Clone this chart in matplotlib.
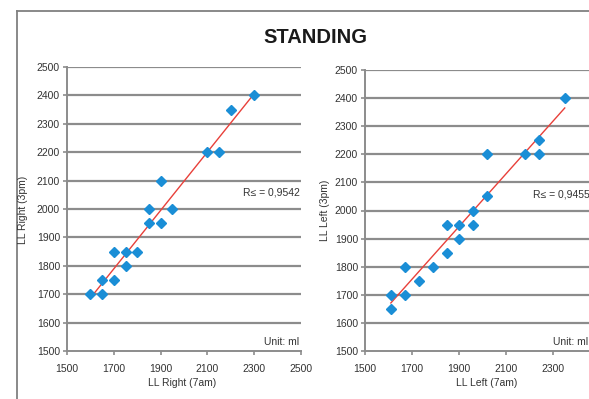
import numpy as np
import matplotlib
matplotlib.use('Agg')
import matplotlib.pyplot as plt
from matplotlib.lines import Line2D

plt.rcParams['font.family'] = ['Liberation Sans', 'DejaVu Sans']

# right leg, standing
right_7am = [1600, 1650, 1650, 1700, 1700, 1750, 1750, 1800, 1850, 1850, 1900, 1900, 1950, 2100, 2150, 2200, 2300]
right_3pm = [1700, 1700, 1750, 1750, 1850, 1850, 1800, 1850, 2000, 1950, 2100, 1950, 2000, 2200, 2200, 2350, 2400]
right_r2 = "R≤ = 0,9542"

# left leg, standing
left_7am = [1610, 1610, 1670, 1670, 1730, 1790, 1850, 1850, 1900, 1900, 1960, 1960, 2020, 2020, 2180, 2240, 2240, 2350]
left_3pm = [1650, 1700, 1800, 1700, 1750, 1800, 1950, 1850, 1950, 1900, 2000, 1950, 2200, 2050, 2200, 2250, 2200, 2400]
left_r2 = "R≤ = 0,9455"

ticks = [1500, 1700, 1900, 2100, 2300, 2500]
yticks = list(range(1500, 2501, 100))

blue = '#1a8ed6'
red = '#e8403a'
grey = '#8c8c8c'

fig = plt.figure(figsize=(5.89, 3.99), dpi=100)

# outer frame, only top and left edges visible
fig.add_artist(Line2D([17/589, 17/589], [0, 1 - 11/399], transform=fig.transFigure, color='#808080', lw=1.3))
fig.add_artist(Line2D([17/589, 1], [1 - 11/399, 1 - 11/399], transform=fig.transFigure, color='#808080', lw=1.3))

fig.text(0.535, 0.905, "STANDING", ha='center', va='center', fontsize=14.5, fontweight='bold', color='#1a1a1a')

ax1 = fig.add_axes([67/589, 48/399, 234/589, 284/399])
ax2 = fig.add_axes([365/589, 48/399, 235/589, 281/399])


def draw(ax, xs, ys, r2text, rx, rha, ux, xlabels):
    ax.set_xlim(1500, 2500)
    ax.set_ylim(1500, 2500)
    for y in yticks[1:]:
        ax.axhline(y, color=grey, lw=1.6, zorder=1)
    m, b = np.polyfit(xs, ys, 1)
    xx = np.array([min(xs), max(xs)])
    ax.plot(xx, m * xx + b, color=red, lw=1.0, zorder=2)
    ax.plot(xs, ys, 'D', color=blue, ms=4.8, mec=blue, zorder=3, clip_on=False)
    ax.set_xticks(ticks)
    ax.set_xticklabels(xlabels)
    ax.set_yticks(yticks)
    for s in ['top', 'right']:
        ax.spines[s].set_visible(False)
    for s in ['left', 'bottom']:
        ax.spines[s].set_color(grey)
        ax.spines[s].set_linewidth(1.4)
    ax.tick_params(axis='both', colors=grey, length=3, width=1.2, labelsize=7.5, labelcolor='#333333', pad=2)
    ax.tick_params(axis='x', pad=6)
    ax.text(rx, 2058, r2text, ha=rha, va='center', fontsize=7.5, color='#333333')
    ax.text(ux, 1532, "Unit: ml", ha='right', va='center', fontsize=7.5, color='#333333')


draw(ax1, right_7am, right_3pm, right_r2, 2495, 'right', 2490, [str(t) for t in ticks])
# the last label of the right chart falls outside the picture
draw(ax2, left_7am, left_3pm, left_r2, 2215, 'left', 2450, [str(t) for t in ticks[:-1]] + [''])

fig.text(182/589, 1 - 383/399, "LL Right (7am)", ha='center', va='center', fontsize=7.5, color='#333333')
fig.text(487/589, 1 - 383/399, "LL Left (7am)", ha='center', va='center', fontsize=7.5, color='#333333')
fig.text(23/589, 1 - 210/399, "LL Right (3pm)", ha='center', va='center', rotation=90, fontsize=7.5, color='#333333')
fig.text(325/589, 1 - 210/399, "LL Left (3pm)", ha='center', va='center', rotation=90, fontsize=7.5, color='#333333')

fig.savefig('out.png', dpi=100)
